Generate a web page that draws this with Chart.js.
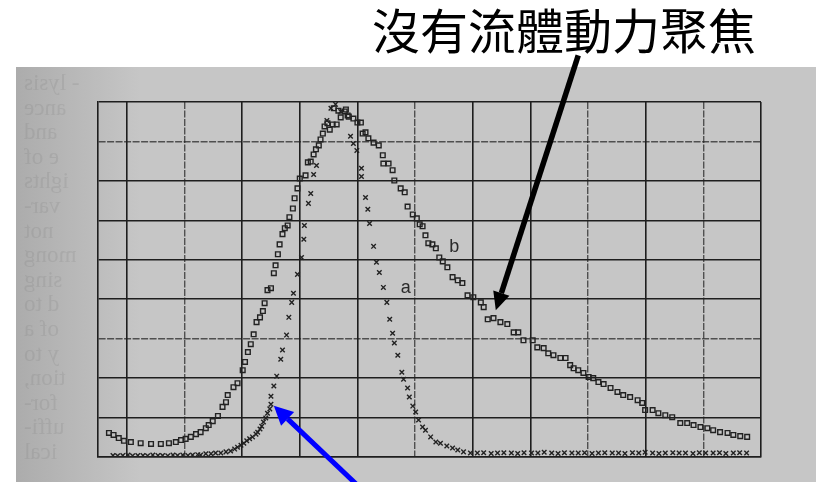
<!DOCTYPE html>
<html lang="zh-Hant">
<head>
<meta charset="utf-8">
<title>沒有流體動力聚焦</title>
<script src="https://cdn.jsdelivr.net/npm/chart.js"></script>
<style>
  html, body { margin: 0; padding: 0; background: #fff; }
  #wrap { position: relative; width: 819px; height: 482px; overflow: hidden; }
  #plot { position: absolute; left: 0; top: 0; }
  #title {
    position: absolute; left: 372px; top: 4px;
    font-family: "Noto Sans CJK TC", "Noto Sans CJK SC", sans-serif;
    font-size: 48px; line-height: 1; color: #000; white-space: nowrap;
  }
</style>
</head>
<body>
<div id="wrap">
  <canvas id="plot" width="819" height="482"></canvas>
  <div id="title">沒有流體動力聚焦</div>
</div>
<script>
// ─── DATA (grid units: x cells across, y cells up) ───
const xGridTicks = [0, 1, 2, 3, 4, 5, 6, 7, 8, 9, 10, 11];
const yGridTicks = [0, 1, 2, 3, 4, 5, 6, 7, 8, 9];

// curve b (squares)
const bX = [-0.31,-0.23,-0.14,-0.05,0.07,0.24,0.42,0.59,0.73,0.85,
  0.94,1.02,1.11,1.20,1.28,1.37,1.42,1.49,1.58,1.66,
  1.72,1.75,1.85,1.92,2.01,2.05,2.10,2.15,2.20,2.25,
  2.31,2.36,2.39,2.44,2.50,2.55,2.58,2.62,2.65,2.70,
  2.74,2.79,2.82,2.88,2.91,2.96,3.00,3.10,3.14,3.19,
  3.24,3.28,3.33,3.36,3.40,3.43,3.48,3.52,3.57,3.59,
  3.64,3.67,3.71,3.78,3.80,3.83,3.85,3.93,4.00,4.06,
  4.09,4.14,4.19,4.28,4.37,4.44,4.45,4.54,4.61,4.64,
  4.75,4.82,4.87,4.96,5.03,5.08,5.13,5.18,5.23,5.30,
  5.36,5.42,5.48,5.56,5.65,5.74,5.82,5.91,6.01,6.14,
  6.19,6.26,6.36,6.48,6.60,6.71,6.79,6.88,7.04,7.12,
  7.23,7.31,7.40,7.52,7.61,7.69,7.75,7.83,7.92,8.01,
  8.09,8.18,8.27,8.39,8.51,8.61,8.73,8.86,8.94,8.99,
  9.12,9.22,9.34,9.46,9.60,9.72,9.83,9.95,10.07,10.17,
  10.29,10.42,10.52,10.64,10.76];
const bY = [0.61,0.56,0.48,0.41,0.38,0.35,0.33,0.33,0.35,0.38,
  0.43,0.46,0.51,0.58,0.63,0.73,0.81,0.91,1.04,1.27,
  1.39,1.57,1.77,1.87,2.20,2.41,2.66,2.86,3.11,3.42,
  3.54,3.70,3.90,4.23,4.28,4.66,4.86,5.14,5.39,5.65,
  5.80,5.87,6.08,6.30,6.56,6.81,7.06,7.14,7.47,7.49,
  7.67,7.80,7.90,8.05,8.20,8.38,8.46,8.30,8.43,8.84,
  8.43,8.78,8.61,8.76,8.81,8.66,8.63,8.58,8.48,8.48,
  8.20,8.23,8.08,7.97,7.90,7.65,7.44,7.44,7.27,7.01,
  6.81,6.71,6.35,6.15,6.05,5.90,5.85,5.62,5.42,5.39,
  5.29,5.06,4.96,4.81,4.56,4.48,4.41,4.10,4.05,3.92,
  3.80,3.49,3.52,3.42,3.37,3.16,3.16,2.96,2.96,2.78,
  2.76,2.63,2.58,2.51,2.51,2.33,2.25,2.20,2.13,2.03,
  2.00,1.90,1.85,1.75,1.65,1.57,1.52,1.44,1.37,1.19,
  1.19,1.11,1.06,1.01,0.86,0.86,0.81,0.76,0.73,0.68,
  0.63,0.61,0.56,0.53,0.51];

// curve a (crosses)
const aX = [-0.24,-0.16,-0.07,0.02,0.10,0.19,0.28,0.36,0.45,0.54,
  0.62,0.71,0.80,0.88,0.97,1.06,1.14,1.23,
  1.28,1.37,1.46,1.54,1.63,1.72,1.80,1.87,1.92,1.98,
  2.03,2.08,2.13,2.18,2.24,2.27,2.31,2.34,2.37,2.41,
  2.44,2.48,2.50,2.50,2.55,2.60,2.67,2.70,2.77,2.81,
  2.86,2.89,2.96,3.03,3.07,3.08,3.15,3.19,3.24,3.29,
  3.47,3.54,3.62,3.71,3.88,3.93,3.99,4.07,4.07,4.14,
  4.18,4.21,4.28,4.33,4.38,4.45,4.51,4.56,4.61,4.64,
  4.70,4.77,4.80,4.87,4.90,4.96,5.01,5.06,5.13,5.18,
  5.27,5.36,5.44,5.55,5.65,5.74,5.84,5.96,
  6.08,6.19,6.32,6.43,6.54,6.67,6.78,6.89,7.02,7.13,
  7.24,7.37,7.48,7.59,7.72,7.83,7.94,8.07,8.18,8.29,
  8.42,8.53,8.64,8.77,8.88,8.99,9.12,9.23,9.34,9.47,
  9.58,9.69,9.82,9.93,10.04,10.17,10.28,10.39,10.52,10.63,10.75];
const aY = [0.04,0.03,0.04,0.05,0.03,0.04,0.04,0.03,0.05,0.04,
  0.04,0.03,0.05,0.04,0.05,0.04,0.05,0.06,
  0.05,0.08,0.08,0.10,0.10,0.13,0.15,0.20,0.25,0.30,
  0.35,0.41,0.46,0.51,0.58,0.63,0.71,0.78,0.89,0.99,
  1.11,1.22,1.34,1.54,1.80,2.05,2.48,2.71,3.09,3.54,
  3.92,4.15,4.63,5.06,5.52,5.87,6.43,6.68,7.16,7.39,
  8.53,8.84,8.94,8.76,8.13,7.95,7.77,7.32,7.11,6.58,
  6.28,5.92,5.34,4.94,4.68,4.30,3.92,3.49,3.14,2.89,
  2.58,2.15,1.97,1.75,1.52,1.29,1.14,0.94,0.76,0.68,
  0.51,0.38,0.35,0.28,0.23,0.18,0.13,0.10,
  0.10,0.11,0.09,0.10,0.11,0.10,0.09,0.11,0.10,0.10,
  0.12,0.10,0.09,0.11,0.10,0.10,0.11,0.09,0.10,0.11,
  0.10,0.10,0.09,0.11,0.10,0.12,0.10,0.09,0.10,0.11,
  0.10,0.10,0.09,0.11,0.10,0.10,0.11,0.09,0.10,0.11,0.10];

// faint text showing through from the back of the scanned page (mirrored)
const bleedLines = ['- lysis', 'ance', 'and', 'e of', 'ights', 'var-', 'not', 'mong',
  'sing', 'd to', 'of a', 'y to', 'tion,', 'for-', 'uffi-', 'ical'];

// lines on the scan that print faint / broken
const xFaint = [1, 5, 8, 10];
const yFaint = [3, 8];

const bPoints = bX.map((x, i) => ({ x, y: bY[i] }));
const aPoints = aX.map((x, i) => ({ x, y: aY[i] }));

// ─── PLUGINS ───
const scanBackdrop = {
  id: 'scanBackdrop',
  beforeDraw(chart) {
    const c = chart.ctx;
    c.save();
    const g = c.createLinearGradient(16, 0, 140, 0);
    g.addColorStop(0, '#acacac');
    g.addColorStop(1, '#c6c6c6');
    c.fillStyle = g;
    c.fillRect(16, 67, 800, 415);

    c.beginPath();
    c.rect(16, 67, 81, 415);
    c.clip();
    c.fillStyle = 'rgba(110,110,110,0.17)';
    c.font = '23px "Liberation Serif", serif';
    c.textAlign = 'right';
    bleedLines.forEach((s, i) => {
      c.save();
      c.translate(24, 90 + i * 24.6);
      c.scale(-1, 1);
      c.fillText(s, 0, 0);
      c.restore();
    });
    c.restore();
  }
};

function drawArrow(c, x0, y0, x1, y1, width, headLen, headW, color) {
  const ang = Math.atan2(y1 - y0, x1 - x0);
  const bx = x1 - headLen * Math.cos(ang);
  const by = y1 - headLen * Math.sin(ang);
  const nx = Math.sin(ang) * headW / 2;
  const ny = Math.cos(ang) * headW / 2;
  c.save();
  c.strokeStyle = color;
  c.fillStyle = color;
  c.lineWidth = width;
  c.beginPath();
  c.moveTo(x0, y0);
  c.lineTo(bx, by);
  c.stroke();
  c.beginPath();
  c.moveTo(x1, y1);
  c.lineTo(bx + nx, by - ny);
  c.lineTo(bx - nx, by + ny);
  c.closePath();
  c.fill();
  c.restore();
}

const annotations = {
  id: 'annotations',
  afterDraw(chart) {
    const c = chart.ctx;
    const xs = chart.scales.x, ys = chart.scales.y;
    const px = v => xs.getPixelForValue(v);
    const py = v => ys.getPixelForValue(v);

    c.save();
    c.fillStyle = '#2a2a2a';
    c.font = '18px "Liberation Sans", Arial, sans-serif';
    c.textAlign = 'center';
    c.textBaseline = 'middle';
    c.fillText('b', px(5.68), py(5.33));
    c.fillText('a', px(4.84), py(4.28));
    c.restore();

    // black arrow from the title down to curve b
    drawArrow(c, px(7.83), py(10.18), px(6.40), py(3.72), 5.5, 18, 17, '#000');
    // blue arrow pointing at the shoulder of curve a
    drawArrow(c, px(4.06), py(-0.80), px(2.55), py(1.30), 5, 19, 19, '#0000ff');
  }
};

// ─── CHART ───
const gridColor = faint => faint ? 'rgba(30,30,30,0.7)' : '#1e1e1e';

new Chart(document.getElementById('plot'), {
  type: 'scatter',
  data: {
    datasets: [
      {
        label: 'b',
        data: bPoints,
        pointStyle: 'rect',
        pointRadius: 3.3,
        borderWidth: 1.4,
        borderColor: '#222',
        backgroundColor: 'rgba(0,0,0,0)',
      },
      {
        label: 'a',
        data: aPoints,
        pointStyle: 'crossRot',
        pointRadius: 3.2,
        borderWidth: 1.4,
        borderColor: '#222',
      }
    ]
  },
  options: {
    responsive: false,
    animation: false,
    devicePixelRatio: 1,
    layout: { padding: { left: 98, right: 58, top: 102, bottom: 25 } },
    plugins: {
      legend: { display: false },
      tooltip: { enabled: false },
    },
    scales: {
      x: {
        type: 'linear',
        min: -0.5,
        max: 11,
        afterBuildTicks: axis => { axis.ticks = xGridTicks.map(v => ({ value: v })); },
        ticks: { display: false },
        grid: {
          drawTicks: false,
          color: ctx => gridColor(ctx.tick && xFaint.includes(ctx.tick.value)),
          lineWidth: ctx => (ctx.tick && xFaint.includes(ctx.tick.value)) ? 1.4 : 1.6,
        },
        border: {
          color: '#1e1e1e',
          width: 1.6,
          dash: ctx => (ctx.tick && xFaint.includes(ctx.tick.value)) ? [7, 1.5] : [],
        },
      },
      y: {
        type: 'linear',
        min: 0,
        max: 9,
        afterBuildTicks: axis => { axis.ticks = yGridTicks.map(v => ({ value: v })); },
        ticks: { display: false },
        grid: {
          drawTicks: false,
          color: ctx => gridColor(ctx.tick && yFaint.includes(ctx.tick.value)),
          lineWidth: ctx => (ctx.tick && yFaint.includes(ctx.tick.value)) ? 1.4 : 1.6,
        },
        border: {
          color: '#1e1e1e',
          width: 1.6,
          dash: ctx => (ctx.tick && yFaint.includes(ctx.tick.value)) ? [7, 1.5] : [],
        },
      },
    },
  },
  plugins: [scanBackdrop, annotations],
});
</script>
</body>
</html>
